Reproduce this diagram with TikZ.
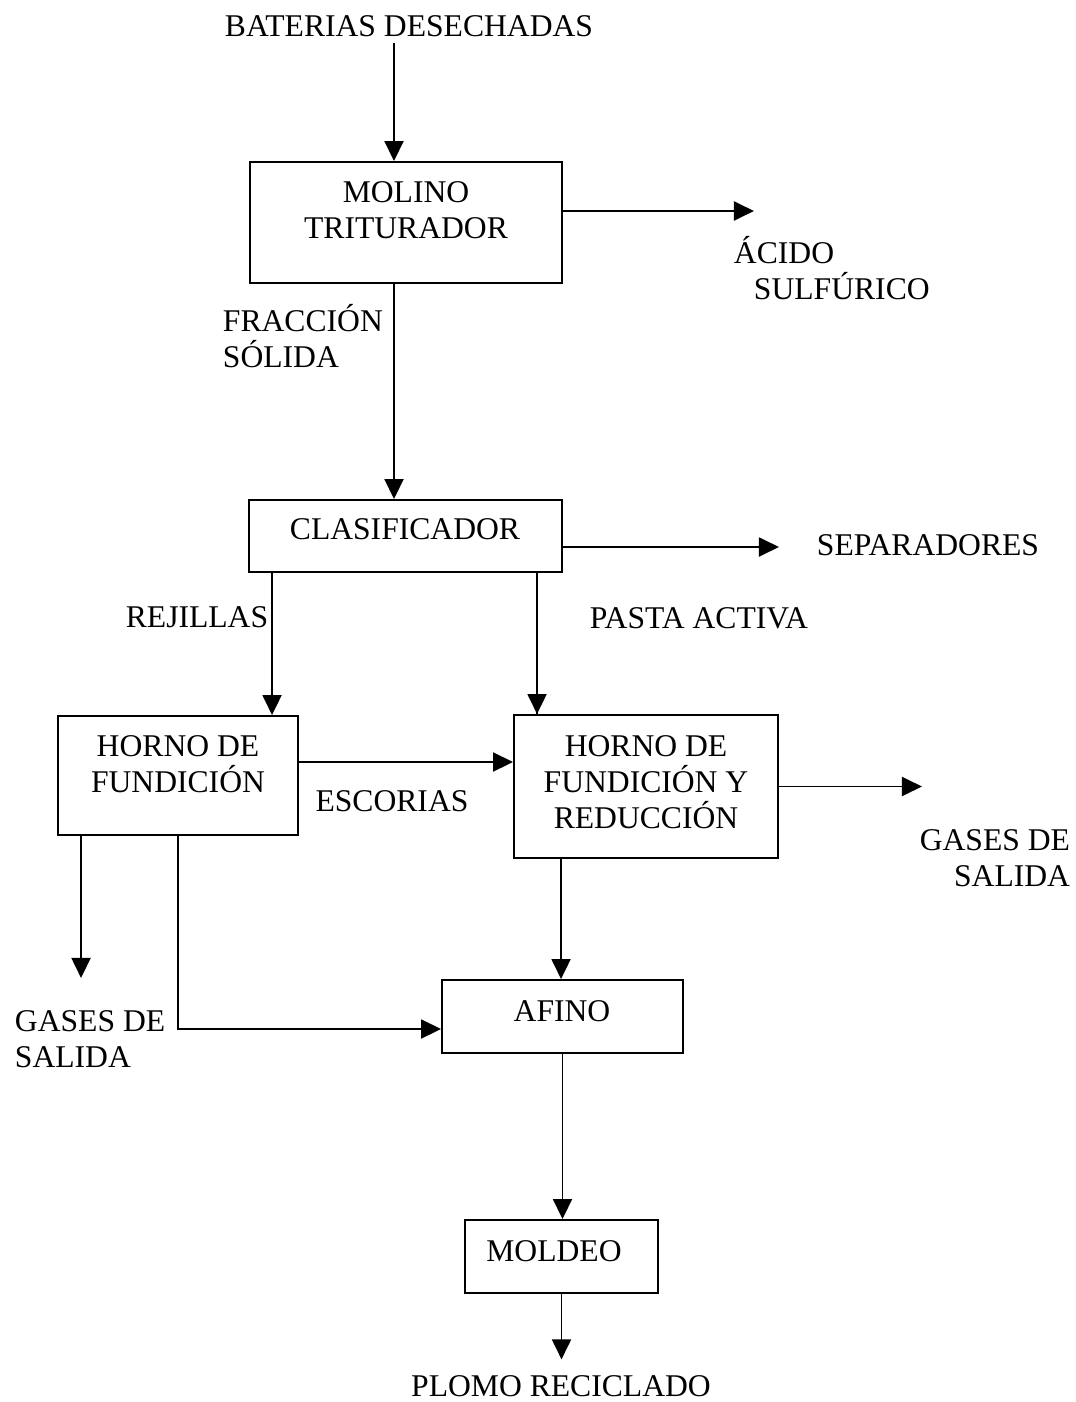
\documentclass[tikz,border=0pt]{standalone}
\usepackage{fontspec}
\setmainfont{Liberation Serif}
\usepackage{tikz}
\usetikzlibrary{
    arrows.meta,
    positioning,
    calc
}

\def\px{0.02cm}

\begin{document}
\begin{tikzpicture}[
  x=0.02cm, y=-0.02cm,
  line width=1.1pt,
  arr/.style  = {-{Triangle[length=0.4cm, width=0.38cm]}},
  box/.style  = {rectangle, draw, inner sep=0pt},
  txt/.style  = {inner sep=0pt, align=center},
  every node/.style = {font=\fontsize{18}{20.5}\selectfont}
]
\useasboundingbox (0,0) rectangle (1075,1402);

% Boxes
\node[box, minimum width={312*\px}, minimum height={121*\px}] (molino) at (406,222.5) {};
\node[box, minimum width={313*\px}, minimum height={72*\px}]  (clas)   at (405.5,536) {};
\node[box, minimum width={240*\px}, minimum height={119*\px}] (hfund)  at (178,775.5) {};
\node[box, minimum width={264*\px}, minimum height={143*\px}] (hred)   at (646,786.5) {};
\node[box, minimum width={241*\px}, minimum height={73*\px}]  (afino)  at (562.5,1016.5) {};
\node[box, minimum width={193*\px}, minimum height={73*\px}]  (moldeo) at (561.5,1256.5) {};

% Box texts
\node[txt] (molinoT) at (406,210.5) {MOLINO\\TRITURADOR};
\node[txt] (clasT)   at (405,529)   {CLASIFICADOR};
\node[txt] (hfundT)  at (178,764)   {HORNO DE\\FUNDICIÓN};
\node[txt] (hredT)   at (646,782)   {HORNO DE\\FUNDICIÓN Y\\REDUCCIÓN};
\node[txt] (afinoT)  at (562,1011)  {AFINO};
\node[txt] (moldeoT) at (554,1251)  {MOLDEO};

% Stream labels
\node[txt] (bat)     at (409,26)    {BATERIAS DESECHADAS};
\node[txt, align=left, anchor=west] (acido) at (733,268) {ÁCIDO\\\hspace*{0.4cm}SULFÚRICO};
\node[txt, align=left, anchor=west] (frac)  at (222,336) {FRACCIÓN\\SÓLIDA};
\node[txt, anchor=west] (sep)   at (816,545)  {SEPARADORES};
\node[txt] (rej)     at (197,617)   {REJILLAS};
\node[txt] (pasta)   at (699,618)   {PASTA ACTIVA};
\node[txt] (esc)     at (392,801)   {ESCORIAS};
\node[txt, align=right, anchor=east] (gasesR) at (1071,858) {GASES DE\\SALIDA};
\node[txt, align=left, anchor=west]  (gasesL) at (14,1039)  {GASES DE\\SALIDA};
\node[txt] (plomo)   at (561,1386)  {PLOMO RECICLADO};

% Main line
\draw[arr] ($(bat.south)+(-15,5)$) -- ($(molino.north)+(-12,0)$);
\draw[arr] ($(molino.south)+(-12,0)$) -- ($(clas.north)+(-11.5,0)$);
\draw[arr] ($(clas.south west)+(24,0)$) -- ($(hfund.north west)+(215,0)$);
\draw[arr] ($(hred.north west)+(24,0)$) coordinate (p1) -- (p1 |- clas.south) -- (p1);
\draw[arr] ($(hfund.east)+(0,-13.5)$) coordinate (e1) -- (e1 -| hred.west);
\draw[arr] (hfund.south) |- ($(afino.west)+(0,12.5)$);
\draw[arr] ($(hred.south west)+(48,0)$) coordinate (r1) -- (r1 |- afino.north);
\draw[arr] (afino.south) -- (afino.south |- moldeo.north);
\draw[arr, shorten >=0.3cm] (moldeo.south) -- (moldeo.south |- plomo.north);

% Side streams
\draw[arr] ($(molino.east)+(0,-11.5)$) -- ++(191,0);
\draw[arr] ($(clas.east)+(0,11)$) -- ++(216,0);
\draw[arr] (hred.east) -- ++(143,0);
\draw[arr] ($(hfund.south west)+(24,0)$) -- ++(0,142);

\end{tikzpicture}
\end{document}
